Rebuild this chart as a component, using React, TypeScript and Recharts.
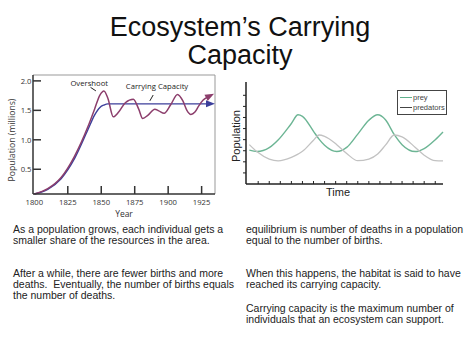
import React from "react";
import { LineChart, Line, XAxis, YAxis, Legend, ReferenceLine, ReferenceDot, CartesianGrid } from "recharts";

// left chart: population over time, overshoot vs. carrying capacity
const years = [1800, 1810, 1820, 1830, 1840, 1845, 1849, 1852, 1855, 1859, 1863, 1868, 1874, 1878, 1881, 1885, 1890, 1893, 1897, 1902, 1907, 1911, 1914, 1917, 1920, 1923, 1926, 1929];
const overshootPop = [0.08, 0.17, 0.36, 0.72, 1.22, 1.52, 1.76, 1.83, 1.7, 1.39, 1.47, 1.63, 1.69, 1.52, 1.36, 1.42, 1.52, 1.49, 1.45, 1.6, 1.77, 1.66, 1.5, 1.43, 1.47, 1.58, 1.67, 1.72];
const capacityPop = [0.08, 0.16, 0.34, 0.68, 1.17, 1.42, 1.55, 1.59, 1.61, 1.61, 1.61, 1.61, 1.61, 1.61, 1.61, 1.61, 1.61, 1.61, 1.61, 1.61, 1.61, 1.61, 1.61, 1.61, 1.61, 1.61, 1.61, 1.61];
const yearTicks = [1800, 1825, 1850, 1875, 1900, 1925];
const popTicks = [0.5, 1.0, 1.5, 2.0];
const yearRange = [1799, 1935];
const popRange = [0.08, 2.1];

// right chart: prey / predator cycles
const time = [0.2, 0.9, 2, 2.8, 4, 4.6, 5, 6, 6.5, 7, 8.1, 9, 10, 11, 11.8, 12.5, 13.3, 14, 15.2, 16, 17, 17.7];
const prey = [3.05, 2.93, 3.28, 3.97, 5.46, 6.24, 6.1, 4.75, 4.05, 3.5, 2.93, 3.3, 4.5, 5.75, 6.24, 5.8, 4.45, 3.55, 2.93, 3.2, 4.0, 4.7];
const predators = [3.55, 2.9, 2.25, 2.09, 2.4, 2.7, 2.95, 3.95, 4.42, 4.3, 3.55, 2.75, 2.1, 2.25, 2.7, 3.5, 4.42, 4.25, 3.3, 2.6, 2.1, 2.08];
const timeTicks = [1, 2, 3, 4, 5, 6, 7, 8, 9, 10, 11, 12, 13, 14, 15, 16, 17];
const levelTicks = [1, 2, 3, 4, 5, 6, 7, 8];

const popData = years.map((year, i) => ({ year, overshoot: overshootPop[i], capacity: capacityPop[i] }));
const cycleData = time.map((t, i) => ({ t, prey: prey[i], predators: predators[i] }));

const legendOrder = ["prey", "predators"];
const legendColors: Record<string, string> = { prey: "#5fb08c", predators: "#444" };

const chartFont = "'Open Sans', sans-serif";
const slideFont = "'Liberation Sans', Arial, sans-serif";

const YearTick = ({ x, y, payload }: any) => (
  <g>
    {payload.value !== 1800 && <line x1={x} y1={y} x2={x} y2={y - 8} stroke="#333" strokeWidth={1.5} />}
    <text x={x} y={y + 10.5} textAnchor="middle" fontSize={7.7} fill="#333" fontFamily={chartFont}>
      {payload.value}
    </text>
  </g>
);

const PopTick = ({ x, y, payload }: any) => (
  <g>
    <line x1={x} y1={y} x2={x + 8} y2={y} stroke="#333" strokeWidth={1.5} />
    <text x={x - 1.5} y={y + 2.8} textAnchor="end" fontSize={7.7} fill="#333" fontFamily={chartFont}>
      {Number(payload.value).toFixed(1)}
    </text>
  </g>
);

const TimeTick = ({ x, y }: any) => <line x1={x} y1={y} x2={x} y2={y - 3} stroke="#222" strokeWidth={1} />;
const NoTick = () => <g />;

const arrowDot = (color: string, angle: number) => (p: any) => {
  if (p.index !== years.length - 1) return <g key={p.index} />;
  return (
    <polygon
      key={p.index}
      points="-1,-3.5 8,0 -1,3.5"
      fill={color}
      transform={`translate(${p.cx},${p.cy}) rotate(${angle})`}
    />
  );
};

const CycleLegend = ({ payload }: any) => {
  const items = [...(payload || [])].sort((a: any, b: any) => legendOrder.indexOf(a.value) - legendOrder.indexOf(b.value));
  return (
    <div style={{ border: "1px solid #444", background: "#fff", width: 48, padding: "1px 0", fontFamily: slideFont, fontSize: 7.5, color: "#444" }}>
      {items.map((p: any) => (
        <div key={p.value} style={{ display: "flex", alignItems: "center", height: 10.5 }}>
          <span style={{ display: "block", width: 12, height: 0, borderTop: `1.5px solid ${legendColors[p.value]}`, margin: "0 1px 0 2px" }} />
          <span>{p.value}</span>
        </div>
      ))}
    </div>
  );
};

const textStyle: React.CSSProperties = {
  position: "absolute",
  fontFamily: slideFont,
  fontSize: 10.5,
  lineHeight: "11px",
  color: "#222",
  whiteSpace: "nowrap",
};

export default function App() {
  return (
    <div style={{ position: "fixed", left: 0, top: 0, width: 474, height: 355, background: "#fff", overflow: "hidden" }}>
      {/* Title */}
      <div style={{ position: "absolute", left: 3, top: 12.5, width: 474, textAlign: "center", fontFamily: slideFont, fontSize: 27, lineHeight: "28px", color: "#111" }}>
        Ecosystem’s Carrying
        <br />
        Capacity
      </div>

      {/* Overshoot / carrying capacity */}
      <div style={{ position: "absolute", left: 0, top: 60 }}>
        <LineChart width={230} height={165} data={popData} margin={{ top: 15, right: 15, bottom: 0, left: 0 }}>
          {/* thin frame on top and right */}
          <CartesianGrid
            horizontalValues={[popRange[1]]}
            verticalValues={[yearRange[1]]}
            stroke="#999"
            strokeWidth={1}
          />
          <XAxis
            dataKey="year"
            type="number"
            domain={yearRange}
            ticks={yearTicks}
            interval={0}
            tickSize={0}
            tickMargin={0}
            tickLine={false}
            tick={<YearTick />}
            height={31}
            axisLine={{ stroke: "#333", strokeWidth: 1.5 }}
            label={{
              content: ({ viewBox }: any) => (
                <text x={124} y={viewBox.y + 23} textAnchor="middle" fontSize={8.5} fill="#333" fontFamily={chartFont}>
                  Year
                </text>
              ),
            }}
          />
          <YAxis
            type="number"
            domain={popRange}
            ticks={popTicks}
            interval={0}
            tickSize={0}
            tickMargin={0}
            tickLine={false}
            tick={<PopTick />}
            width={33}
            axisLine={{ stroke: "#333", strokeWidth: 1.5 }}
            label={{
              content: () => (
                <text x={12} y={80} textAnchor="middle" fontSize={8.7} fill="#333" fontFamily={chartFont} transform="rotate(-90, 12, 80)" dy={3}>
                  Population (millions)
                </text>
              ),
            }}
          />
          <Line
            dataKey="capacity"
            type="monotone"
            stroke="#3c3f9b"
            strokeWidth={1.4}
            dot={arrowDot("#3c3f9b", 0)}
            activeDot={false}
            isAnimationActive={false}
          />
          <Line
            dataKey="overshoot"
            type="monotone"
            stroke="#8c3e6c"
            strokeWidth={1.5}
            dot={arrowDot("#8c3e6c", -28)}
            activeDot={false}
            isAnimationActive={false}
          />
          <ReferenceDot x={1841} y={1.965} r={0} label={{ value: "Overshoot", position: "center", fontSize: 7.7, fill: "#222", fontFamily: chartFont }} />
          <ReferenceLine segment={[{ x: 1842, y: 1.89 }, { x: 1846, y: 1.83 }]} stroke="#222" strokeWidth={1} />
          <ReferenceDot x={1891.7} y={1.915} r={0} label={{ value: "Carrying Capacity", position: "center", fontSize: 7.7, fill: "#222", fontFamily: chartFont }} />
          <ReferenceLine segment={[{ x: 1888.8, y: 1.76 }, { x: 1886.3, y: 1.66 }]} stroke="#222" strokeWidth={1} />
        </LineChart>
      </div>

      {/* Prey / predators */}
      <div style={{ position: "absolute", left: 228, top: 76 }}>
        <LineChart width={230} height={125} data={cycleData} margin={{ top: 6, right: 15, bottom: 0, left: 0 }}>
          <XAxis
            dataKey="t"
            type="number"
            domain={[-0.1, 17.7]}
            ticks={timeTicks}
            interval={0}
            tickSize={0}
            tickMargin={0}
            tickLine={false}
            tick={<TimeTick />}
            height={17}
            axisLine={{ stroke: "#222", strokeWidth: 1.5 }}
            label={{
              content: ({ viewBox }: any) => (
                <text x={110} y={viewBox.y + 11.5} textAnchor="middle" fontSize={11} fill="#222" fontFamily={slideFont}>
                  Time
                </text>
              ),
            }}
          />
          <YAxis
            type="number"
            domain={[0, 9.2]}
            ticks={levelTicks}
            interval={0}
            tickSize={3}
            tickLine={{ stroke: "#222" }}
            tick={<NoTick />}
            width={18}
            axisLine={{ stroke: "#222", strokeWidth: 1.5 }}
            label={{
              content: () => (
                <text x={8} y={60} textAnchor="middle" fontSize={11} fill="#222" fontFamily={slideFont} transform="rotate(-90, 8, 60)" dy={4}>
                  Population
                </text>
              ),
            }}
          />
          <Line dataKey="prey" name="prey" type="monotone" stroke="#6cb594" strokeWidth={1.4} dot={false} activeDot={false} isAnimationActive={false} />
          <Line dataKey="predators" name="predators" type="monotone" stroke="#c2c2c2" strokeWidth={1.3} dot={false} activeDot={false} isAnimationActive={false} />
          <Legend
            layout="vertical"
            align="center"
            verticalAlign="middle"
            content={<CycleLegend />}
            wrapperStyle={{ left: 169, top: 14, width: 50 }}
          />
        </LineChart>
      </div>

      {/* Text blocks */}
      <div style={{ ...textStyle, left: 13, top: 224 }}>
        As a population grows, each individual gets a<br />
        smaller share of the resources in the area.
      </div>
      <div style={{ ...textStyle, left: 13, top: 268 }}>
        After a while, there are fewer births and more<br />
        deaths.&nbsp; Eventually, the number of births equals<br />
        the number of deaths.
      </div>
      <div style={{ ...textStyle, left: 246, top: 224 }}>
        equilibrium is number of deaths in a population<br />
        equal to the number of births.
      </div>
      <div style={{ ...textStyle, left: 246, top: 268 }}>
        When this happens, the habitat is said to have<br />
        reached its carrying capacity.
      </div>
      <div style={{ ...textStyle, left: 246, top: 303 }}>
        Carrying capacity is the maximum number of<br />
        individuals that an ecosystem can support.
      </div>
    </div>
  );
}
